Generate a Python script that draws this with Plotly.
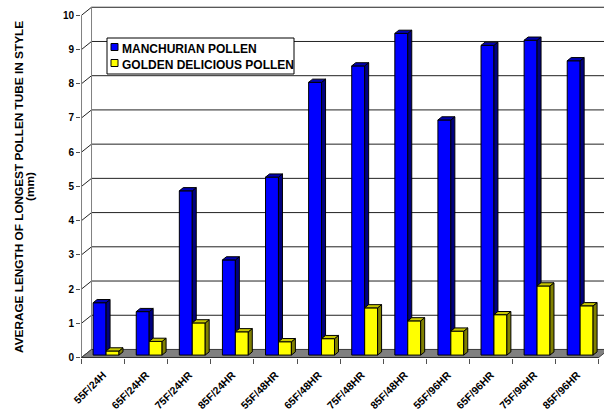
import plotly.graph_objects as go

# ---- data ---------------------------------------------------------------
categories = ["55F/24H", "65F/24HR", "75F/24HR", "85F/24HR",
              "55F/48HR", "65F/48HR", "75F/48HR", "85F/48HR",
              "55F/96HR", "65F/96HR", "75F/96HR", "85F/96HR"]
manchurian = [1.53, 1.27, 4.80, 2.78, 5.20, 7.97, 8.45, 9.40, 6.87, 9.05, 9.20, 8.60]
golden = [0.12, 0.40, 0.94, 0.68, 0.39, 0.48, 1.38, 1.00, 0.70, 1.18, 2.02, 1.44]
y_ticks = list(range(0, 11))
series_names = ["MANCHURIAN POLLEN", "GOLDEN DELICIOUS POLLEN"]

# ---- 3-D box geometry (axis units) ----------------------------------------
DEPTH_X = 0.232      # horizontal shift from front plane to back wall
DEPTH_Y = 0.234      # vertical shift from front plane to back wall
SLAB_START = 0.3     # bars start 30% into the depth
SLAB_DEPTH = 0.4     # and are 40% of the depth thick
BAR_W = 0.3          # width of a single bar face

FONT = "Liberation Sans, Arial, sans-serif"
BLUE, BLUE_SIDE, BLUE_TOP = "#0000FF", "#000080", "#0000B0"
YEL, YEL_SIDE, YEL_TOP = "#FFFF00", "#808000", "#C8C800"

n = len(categories)
W, H = 604, 411
L_M, R_M, T_M, B_M = 81, 0, 5, 53
X_RANGE = [-0.012, 12.123]
Y_RANGE = [-0.015, 10.30]

def paper_x(px):
    return (px - L_M) / (W - L_M - R_M)

def paper_y(py):
    return (H - B_M - py) / (H - B_M - T_M)

ox = SLAB_START * DEPTH_X
oy = SLAB_START * DEPTH_Y
ddx = SLAB_DEPTH * DEPTH_X
ddy = SLAB_DEPTH * DEPTH_Y
centers = [i + 0.5 + ox for i in range(n)]

fig = go.Figure()

# front faces of the bars
fig.add_trace(go.Bar(x=centers, y=manchurian, base=oy, width=BAR_W, offset=-BAR_W,
                     marker=dict(color=BLUE, line=dict(color="black", width=1)),
                     name=series_names[0], showlegend=False))
fig.add_trace(go.Bar(x=centers, y=golden, base=oy, width=BAR_W, offset=0,
                     marker=dict(color=YEL, line=dict(color="black", width=1)),
                     name=series_names[1], showlegend=False))


def polys_trace(polys, fill):
    xs, ys = [], []
    for p in polys:
        for (a, b) in p + [p[0]]:
            xs.append(a)
            ys.append(b)
        xs.append(None)
        ys.append(None)
    return go.Scatter(x=xs, y=ys, mode="lines", fill="toself", fillcolor=fill,
                      line=dict(color="black", width=1), hoverinfo="skip",
                      showlegend=False)


blue_side, blue_top, yel_side, yel_top = [], [], [], []
for c, m, g in zip(centers, manchurian, golden):
    # visible part of the blue side sits above the yellow bar in front of it
    blue_side.append([(c, oy + g), (c + ddx, oy + g + ddy),
                      (c + ddx, oy + m + ddy), (c, oy + m)])
    blue_top.append([(c - BAR_W, oy + m), (c, oy + m),
                     (c + ddx, oy + m + ddy), (c - BAR_W + ddx, oy + m + ddy)])
    yel_side.append([(c + BAR_W, oy), (c + BAR_W + ddx, oy + ddy),
                     (c + BAR_W + ddx, oy + g + ddy), (c + BAR_W, oy + g)])
    yel_top.append([(c, oy + g), (c + BAR_W, oy + g),
                    (c + BAR_W + ddx, oy + g + ddy), (c + ddx, oy + g + ddy)])

fig.add_trace(polys_trace(blue_side, BLUE_SIDE))
fig.add_trace(polys_trace(blue_top, BLUE_TOP))
fig.add_trace(polys_trace(yel_side, YEL_SIDE))
fig.add_trace(polys_trace(yel_top, YEL_TOP))

# ---- walls, floor and gridlines -----------------------------------------
shapes = []
grid_col = "#222222"
wall_col = "#808080"
for v in y_ticks:
    # back-wall gridline
    shapes.append(dict(type="line", xref="x", yref="y", layer="below",
                       x0=DEPTH_X, x1=n + DEPTH_X + 1, y0=v + DEPTH_Y, y1=v + DEPTH_Y,
                       line=dict(color=grid_col, width=1)))
    # side-wall gridline
    shapes.append(dict(type="line", xref="x", yref="y", layer="below",
                       x0=0, x1=DEPTH_X, y0=v, y1=v + DEPTH_Y,
                       line=dict(color=grid_col, width=1)))
# wall edges
shapes.append(dict(type="line", xref="x", yref="y", layer="below",
                   x0=DEPTH_X, x1=DEPTH_X, y0=DEPTH_Y, y1=y_ticks[-1] + DEPTH_Y,
                   line=dict(color=wall_col, width=1)))
shapes.append(dict(type="line", xref="x", yref="y", layer="below",
                   x0=0, x1=0, y0=0, y1=y_ticks[-1],
                   line=dict(color=wall_col, width=1)))
# floor
shapes.append(dict(type="path", xref="x", yref="y", layer="below",
                   path=f"M 0 0 L {n} 0 L {n + DEPTH_X} {DEPTH_Y} L {DEPTH_X} {DEPTH_Y} Z",
                   fillcolor="#808080", line=dict(color="#404040", width=1)))
shapes.append(dict(type="line", xref="x", yref="y", layer="below",
                   x0=0, x1=n, y0=0, y1=0, line=dict(color="#303030", width=1)))

# ---- legend box -----------------------------------------------------------
shapes.append(dict(type="rect", xref="paper", yref="paper",
                   x0=paper_x(107), x1=paper_x(294), y0=paper_y(74), y1=paper_y(38),
                   fillcolor="white", line=dict(color="black", width=1)))
swatches = [(BLUE, 43.5), (YEL, 59.5)]
for col, top in swatches:
    shapes.append(dict(type="rect", xref="paper", yref="paper",
                       x0=paper_x(111), x1=paper_x(118), y0=paper_y(top + 7), y1=paper_y(top),
                       fillcolor=col, line=dict(color="black", width=1)))

annotations = []
for name, yc in zip(series_names, [48.5, 64.5]):
    annotations.append(dict(xref="paper", yref="paper", x=paper_x(120), y=paper_y(yc),
                            xanchor="left", yanchor="middle", showarrow=False, text=name,
                            font=dict(family=FONT, size=12, color="black", weight="bold")))

# y-axis title (two lines)
annotations.append(dict(xref="paper", yref="paper", x=paper_x(19), y=paper_y(187),
                        xanchor="center", yanchor="middle", showarrow=False, textangle=-90,
                        text="AVERAGE LENGTH OF LONGEST POLLEN TUBE IN STYLE",
                        font=dict(family=FONT, size=11.8, color="black", weight="bold")))
annotations.append(dict(xref="paper", yref="paper", x=paper_x(30), y=paper_y(187),
                        xanchor="center", yanchor="middle", showarrow=False, textangle=-90,
                        text="(mm)",
                        font=dict(family=FONT, size=11.8, color="black", weight="bold")))

fig.update_layout(
    width=W, height=H,
    margin=dict(l=L_M, r=R_M, t=T_M, b=B_M),
    paper_bgcolor="white", plot_bgcolor="white",
    showlegend=False,
    barmode="overlay",
    shapes=shapes,
    annotations=annotations,
    xaxis=dict(range=X_RANGE, showgrid=False, zeroline=False, showline=False,
               tickmode="array", tickvals=[i + 0.5 for i in range(n)], ticktext=categories,
               ticks="", tickangle=-45, ticklabelstandoff=8,
               tickfont=dict(family=FONT, size=10.5, color="black", weight="bold"),
               minor=dict(tickmode="array", tickvals=list(range(n + 1)), ticks="outside",
                          ticklen=5, tickcolor="#505050", showgrid=False)),
    yaxis=dict(range=Y_RANGE, showgrid=False, zeroline=False, showline=False,
               tickmode="array", tickvals=y_ticks, ticks="outside", ticklen=4,
               tickcolor="#505050",
               tickfont=dict(family=FONT, size=10, color="black", weight="bold")),
)

fig.write_html("out.html")
